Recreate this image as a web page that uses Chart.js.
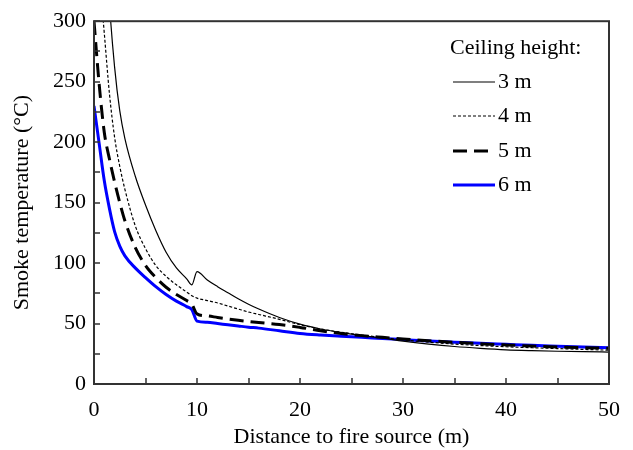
<!DOCTYPE html>
<html>
<head>
<meta charset="utf-8">
<script src="https://cdn.jsdelivr.net/npm/chart.js@4.4.0/dist/chart.umd.min.js"></script>
<style>
  body { margin: 0; background: #fff; }
  #wrap { width: 633px; height: 450px; }
</style>
</head>
<body>
<div id="wrap"><canvas id="myChart" width="633" height="450"></canvas></div>
<script>
// distance to fire source (m)
var distance = [0, 0.5, 1, 1.5, 2, 2.5, 3, 4, 5, 6, 7, 8, 9, 9.5, 10, 11, 12, 13, 14, 15, 16, 18, 20, 22, 24, 26, 28, 30, 32.5, 35, 37.5, 40, 42.5, 45, 47.5, 50];

// smoke temperature (C) for each ceiling height
var temp3m = [800, 560, 400, 315, 262, 226, 203, 172, 148, 127, 109, 96, 87, 82, 93, 86, 80.5, 75.5, 70.5, 66, 62, 55, 49.5, 45.5, 42.5, 40, 38, 35.5, 33, 31, 29.5, 28.3, 27.6, 27.1, 26.7, 26.4];
var temp4m = [400, 340, 290, 240, 204, 180, 161, 131, 112, 98, 89, 82, 76, 73, 71, 69, 67, 64.5, 62, 59.5, 57.5, 53.5, 49, 45.5, 42.8, 40.5, 38.4, 36.5, 34.6, 33, 31.8, 30.8, 30, 29.3, 28.6, 28];
var temp5m = [300, 248, 208, 186, 167, 150, 135, 113, 98, 88, 80, 74, 69, 66, 58, 56.3, 55, 53.8, 52.7, 51.7, 50.8, 49.2, 46.8, 44, 41.8, 40, 38.6, 37.3, 35.8, 34.5, 33.3, 32.3, 31.4, 30.6, 30, 29.5];
var temp6m = [230, 199, 168, 145, 126, 114, 106, 96, 88, 80.5, 74, 68.5, 64, 61.5, 52, 51, 50, 49, 48, 47, 46.2, 44, 41.8, 40.5, 39.5, 38.6, 37.6, 36.7, 35.6, 34.6, 33.6, 32.8, 32, 31.3, 30.6, 30];

var seriesNames = ["3 m", "4 m", "5 m", "6 m"];
var xLabels = [0, 10, 20, 30, 40, 50];
var yLabels = [0, 50, 100, 150, 200, 250, 300];

function pairs(ys) {
  return distance.map(function (d, i) { return { x: d, y: ys[i] }; });
}

var serif = "'Liberation Serif', 'Times New Roman', serif";
Chart.defaults.font.family = serif;
Chart.defaults.color = "#000";

// inward ticks, frame and the legend inside the plot
var frame = {
  id: "frame",
  afterDatasetsDraw: function (chart) {
    var ctx = chart.ctx, a = chart.chartArea;
    var xs = chart.scales.x, ys = chart.scales.y;
    ctx.save();
    ctx.strokeStyle = "#333";
    ctx.lineWidth = 1.5;
    ctx.beginPath();
    xs.ticks.forEach(function (t) {
      var px = Math.round(xs.getPixelForValue(t.value));
      ctx.moveTo(px, a.bottom);
      ctx.lineTo(px, a.bottom - 6);
    });
    ys.ticks.forEach(function (t) {
      var py = Math.round(ys.getPixelForValue(t.value));
      ctx.moveTo(a.left, py);
      ctx.lineTo(a.left + 6, py);
    });
    ctx.stroke();
    ctx.lineWidth = 2;
    ctx.strokeRect(a.left, a.top, a.right - a.left, a.bottom - a.top);

    ctx.fillStyle = "#000";
    ctx.font = "22px " + serif;
    ctx.textBaseline = "middle";
    ctx.fillText("Ceiling height:", 450, 48);
    var rowY = [82, 116, 151, 185];
    chart.data.datasets.forEach(function (ds, i) {
      ctx.beginPath();
      ctx.strokeStyle = ds.borderColor;
      ctx.lineWidth = ds.borderWidth;
      ctx.setLineDash(ds.borderDash || []);
      ctx.moveTo(453, rowY[i]);
      ctx.lineTo(495, rowY[i]);
      ctx.stroke();
      ctx.setLineDash([]);
      ctx.fillText(ds.label, 498, rowY[i]);
    });
    ctx.restore();
  }
};

var ctx = document.getElementById("myChart").getContext("2d");
var smokeChart = new Chart(ctx, {
  type: "line",
  data: {
    datasets: [
      { label: seriesNames[0], data: pairs(temp3m), borderColor: "#000", borderWidth: 1.2 },
      { label: seriesNames[1], data: pairs(temp4m), borderColor: "#000", borderWidth: 1.2, borderDash: [3, 2] },
      { label: seriesNames[2], data: pairs(temp5m), borderColor: "#000", borderWidth: 3, borderDash: [14, 7] },
      { label: seriesNames[3], data: pairs(temp6m), borderColor: "#0000ff", borderWidth: 3 }
    ]
  },
  options: {
    responsive: false,
    animation: false,
    layout: { padding: { top: 16, right: 22, left: 0, bottom: 0 } },
    elements: { point: { radius: 0 }, line: { cubicInterpolationMode: "monotone" } },
    plugins: { legend: { display: false }, tooltip: { enabled: false } },
    scales: {
      x: {
        type: "linear",
        min: 0,
        max: 50,
        grid: { display: false, drawTicks: false },
        border: { display: false },
        ticks: {
          stepSize: 5,
          padding: 13,
          font: { size: 22 },
          maxRotation: 0,
          autoSkip: false,
          callback: function (v) { return xLabels.indexOf(v) >= 0 ? v : ""; }
        },
        title: { display: true, text: "Distance to fire source (m)", font: { size: 22 }, padding: { top: 0, bottom: 0 } },
        afterFit: function (s) { s.height = 66; }
      },
      y: {
        min: 0,
        max: 300,
        grid: { display: false, drawTicks: false },
        border: { display: false },
        ticks: {
          stepSize: 25,
          padding: 8,
          font: { size: 22 },
          autoSkip: false,
          callback: function (v) { return yLabels.indexOf(v) >= 0 ? v : ""; }
        },
        title: { display: true, text: "Smoke temperature (°C)", font: { size: 22 }, padding: { top: 9, bottom: 0 } },
        afterFit: function (s) { s.width = 94; }
      }
    }
  },
  plugins: [frame]
});
</script>
</body>
</html>
